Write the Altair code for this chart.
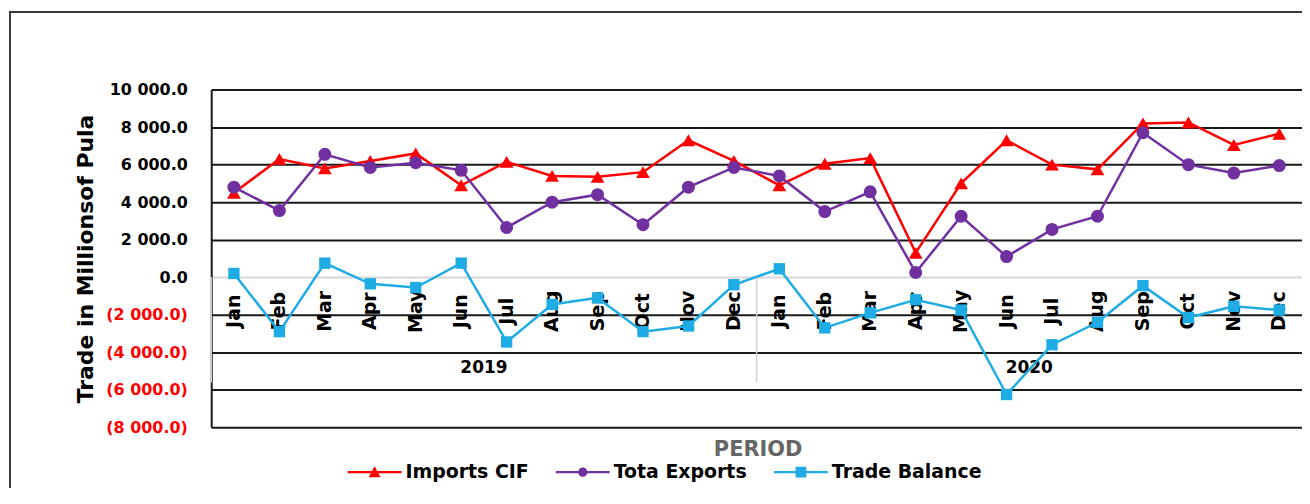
import altair as alt
import pandas as pd

months = ["Jan", "Feb", "Mar", "Apr", "May", "Jun", "Jul", "Aug", "Sep", "Oct", "Nov", "Dec"]
years = ["2019", "2020"]
series_names = ["Imports CIF", "Tota Exports", "Trade Balance"]
x_title = ["PERIOD"]

imports_cif = [4500, 6300, 5800, 6200, 6600, 4900, 6150, 5400, 5350, 5600, 7300, 6200,
               4900, 6050, 6350, 1300, 5000, 7300, 6000, 5750, 8200, 8250, 7050, 7650]
total_exports = [4800, 3550, 6550, 5850, 6100, 5700, 2650, 4000, 4400, 2800, 4800, 5850,
                 5400, 3500, 4550, 250, 3250, 1100, 2550, 3250, 7700, 6000, 5550, 5950]
trade_balance = [200, -2900, 750, -350, -550, 750, -3450, -1450, -1100, -2900, -2600, -400,
                 450, -2700, -1900, -1200, -1750, -6250, -3600, -2400, -450, -2150, -1550, -1750]

y_ticks = [-8000, -6000, -4000, -2000, 0, 2000, 4000, 6000, 8000, 10000]

colors = ["#FF0000", "#7030A0", "#1FACE4"]
shapes = ["triangle-up", "circle", "square"]
sizes = [190, 170, 130]
legend_paths = [
    "M-1,-0.045H1V0.045H-1ZM-0.22,0.19L0,-0.22L0.22,0.19Z",
    "M-1,-0.045H1V0.045H-1ZM0.17,0A0.17,0.17 0 1,1 -0.17,0A0.17,0.17 0 1,1 0.17,0Z",
    "M-1,-0.045H1V0.045H-1ZM-0.2,-0.2H0.2V0.2H-0.2Z",
]

keys = [f"{m} {y}" for y in years for m in months]
rows = []
for name, vals in zip(series_names, [imports_cif, total_exports, trade_balance]):
    for k, v in zip(keys, vals):
        rows.append({"period": k, "series": name, "value": v})
df = pd.DataFrame(rows)

year_df = pd.DataFrame({
    "year": years,
    "first": [f"{months[0]} {y}" for y in years],
    "mid": [f"{months[6]} {y}" for y in years],
})

FONT = "DejaVu Sans"

x_scale = alt.Scale(type="band", domain=keys, paddingInner=0, paddingOuter=0)
y_scale = alt.Scale(domain=[-8000, 10000], nice=False, zero=False)

x_axis = alt.Axis(
    offset=-151, ticks=False, grid=False,
    domainColor="#d9d9d9", domainWidth=1.5,
    labelExpr="split(datum.value, ' ')[0]",
    labelAngle=-90, labelAlign="center", labelBaseline="middle",
    labelPadding=34, labelFont=FONT, labelFontSize=19, labelFontWeight="bold",
    labelColor="black", title=None,
)
y_axis = alt.Axis(
    values=y_ticks, ticks=False, grid=True,
    gridColor={"condition": {"test": "datum.value === 0", "value": "#d9d9d9"}, "value": "#1a1a1a"},
    gridWidth=2, domainColor="#1a1a1a", domainWidth=2,
    labelExpr="(datum.value < 0 ? '(' : '') + replace(format(abs(datum.value), ',.1f'), ',', ' ') + (datum.value < 0 ? ')' : '')",
    labelColor={"condition": {"test": "datum.value < 0", "value": "#FF0000"}, "value": "black"},
    labelFont=FONT, labelFontSize=16, labelFontWeight="bold", labelPadding=24,
    title="Trade in Millionsof Pula", titleFont=FONT, titleFontSize=22,
    titleFontWeight="bold", titleColor="black", titlePadding=8,
)

legend = alt.Legend(
    orient="none", legendX=137, legendY=357, direction="horizontal", title=None,
    symbolSize=2916, symbolStrokeWidth=0, symbolOpacity=1, labelOffset=4, columnPadding=27,
    labelFont=FONT, labelFontSize=19, labelFontWeight="bold", labelColor="black",
)

frame = alt.Chart(pd.DataFrame({"a": [0]})).mark_rect(
    filled=False, stroke="#3a3a3a", strokeWidth=2
).encode(x=alt.value(-202), x2=alt.value(1120), y=alt.value(-78), y2=alt.value(404))

base = alt.Chart(df)
x_enc = alt.X("period:N", sort=keys, scale=x_scale, axis=x_axis)
y_enc = alt.Y("value:Q", scale=y_scale, axis=y_axis)

legend_layer = base.mark_point(filled=True, opacity=0).encode(
    x=x_enc, y=y_enc,
    color=alt.Color("series:N", scale=alt.Scale(domain=series_names, range=colors), legend=legend),
    shape=alt.Shape("series:N", scale=alt.Scale(domain=series_names, range=legend_paths), legend=legend),
)

separators = alt.Chart(year_df).mark_rule(color="#d0d0d0", strokeWidth=1.5).encode(
    x=alt.X("first:N", scale=x_scale, axis=x_axis, bandPosition=0),
    y=alt.value(188), y2=alt.value(294),
)

year_text = alt.Chart(year_df).mark_text(
    font=FONT, fontSize=17, fontWeight="bold", color="black", baseline="middle"
).encode(
    x=alt.X("mid:N", scale=x_scale, axis=x_axis, bandPosition=0),
    y=alt.value(279),
    text="year:N",
)

period_title = alt.Chart(pd.DataFrame({"label": x_title})).mark_text(
    font=FONT, fontSize=21, fontWeight="bold", color="#666666", baseline="middle", align="center"
).encode(x=alt.value(549), y=alt.value(362), text="label:N")

layers = [legend_layer, frame, separators, year_text, period_title]
for i, name in enumerate(series_names):
    sub = base.transform_filter(alt.datum.series == name)
    line = sub.mark_line(strokeWidth=2.5, color=colors[i]).encode(x=x_enc, y=y_enc)
    pts = sub.mark_point(shape=shapes[i], size=sizes[i], filled=True, opacity=1, color=colors[i]).encode(
        x=x_enc, y=y_enc)
    layers += [line, pts]

chart = alt.layer(*layers).properties(
    width=1095, height=339,
    padding={"left": 204, "top": 81, "right": 0, "bottom": 60},
    autosize=alt.AutoSizeParams(type="none"),
).configure_view(stroke=None).configure(background="white")

chart.save("out.html", embed_options={"renderer": "svg", "actions": False})
